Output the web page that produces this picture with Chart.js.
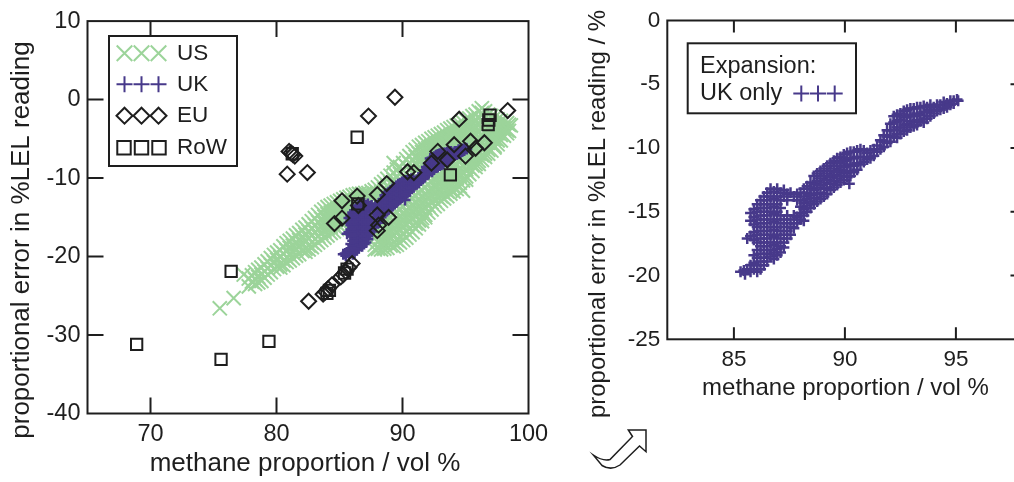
<!DOCTYPE html>
<html><head><meta charset="utf-8">
<script src="https://cdn.jsdelivr.net/npm/chart.js@4.4.1/dist/chart.umd.min.js"></script>
<style>
html,body{margin:0;padding:0;overflow:hidden;background:#fff;width:1014px;height:482px;}
#left{position:absolute;left:0;top:0;}
#right{position:absolute;left:560px;top:0;}
</style></head><body>
<canvas id="left" width="560" height="482"></canvas>
<canvas id="right" width="480" height="482"></canvas>
<script>
// ---------------- data ----------------
const xTicksLeft = [70, 80, 90, 100];
const yTicksLeft = [-40, -30, -20, -10, 0, 10];
const xTicksRight = [85, 90, 95];
const yTicksRight = [-25, -20, -15, -10, -5, 0];

const legendLabels = ['US', 'UK', 'EU', 'RoW'];
const insetLegend = ['Expansion:', 'UK only'];
const xTitle = 'methane proportion / vol %';
const yTitleLeft = 'proportional error in %LEL reading';
const yTitleRight = 'proportional error in %LEL reading / %';

const usData = [
[75.5,-26.6],[76.6,-25.3],[77.4,-22.3],
[77.8,-22.8],[77.8,-23.8],
[78.05,-22.4],[78.05,-23.2],
[78.3,-22.0],[78.3,-22.9],[78.3,-23.5],
[78.55,-21.7],[78.55,-22.6],[78.55,-23.3],
[78.8,-21.4],[78.8,-22.3],[78.8,-23.1],
[79.05,-21.0],[79.05,-21.9],[79.05,-22.7],
[79.3,-20.6],[79.3,-21.5],[79.3,-22.3],
[79.55,-20.2],[79.55,-21.1],[79.55,-22.0],
[79.8,-19.8],[79.8,-20.7],[79.8,-21.6],
[80.05,-19.5],[80.05,-20.4],[80.05,-21.3],
[80.3,-19.2],[80.3,-20.1],[80.3,-21.0],[80.3,-21.4],
[80.55,-18.7],[80.55,-19.6],[80.55,-20.5],[80.55,-21.1],
[80.8,-18.3],[80.8,-19.2],[80.8,-20.1],[80.8,-20.7],
[81.05,-18.0],[81.05,-18.9],[81.05,-19.8],[81.05,-20.5],
[81.3,-17.7],[81.3,-18.6],[81.3,-19.5],[81.3,-20.2],
[81.55,-17.3],[81.55,-18.2],[81.55,-19.1],[81.55,-19.9],
[81.8,-17.0],[81.8,-17.9],[81.8,-18.8],[81.8,-19.7],
[82.05,-16.6],[82.05,-17.5],[82.05,-18.4],[82.05,-19.3],
[82.3,-16.3],[82.3,-17.2],[82.3,-18.1],[82.3,-19.0],[82.3,-19.4],
[82.55,-15.9],[82.55,-16.8],[82.55,-17.7],[82.55,-18.6],[82.55,-19.1],
[82.8,-15.5],[82.8,-16.4],[82.8,-17.3],[82.8,-18.2],[82.8,-18.8],
[83.05,-15.1],[83.05,-16.0],[83.05,-16.9],[83.05,-17.8],[83.05,-18.5],
[83.3,-14.7],[83.3,-15.6],[83.3,-16.5],[83.3,-17.4],[83.3,-18.2],
[83.55,-14.3],[83.55,-15.2],[83.55,-16.1],[83.55,-17.0],[83.55,-17.9],
[83.8,-14.0],[83.8,-14.9],[83.8,-15.8],[83.8,-16.7],[83.8,-17.6],
[84.05,-13.7],[84.05,-14.6],[84.05,-15.5],[84.05,-16.4],[84.05,-17.3],
[84.3,-13.5],[84.3,-14.4],[84.3,-15.3],[84.3,-16.2],[84.3,-17.0],
[84.55,-13.3],[84.55,-14.2],[84.55,-15.1],[84.55,-16.0],[84.55,-16.8],
[84.8,-13.1],[84.8,-14.0],[84.8,-14.9],[84.8,-15.8],[84.8,-16.5],
[85.05,-12.9],[85.05,-13.8],[85.05,-14.7],[85.05,-15.6],[85.05,-16.2],
[85.3,-12.7],[85.3,-13.6],[85.3,-14.5],[85.3,-15.4],[85.3,-15.9],
[85.55,-12.5],[85.55,-13.4],[85.55,-14.3],[85.55,-15.2],[85.55,-15.6],
[85.8,-12.4],[85.8,-13.3],[85.8,-14.2],[85.8,-15.0],
[86.05,-12.2],[86.05,-13.1],[86.05,-14.0],[86.05,-14.4],
[86.3,-12.1],[86.3,-13.0],[86.3,-13.6],
[86.55,-12.0],[86.55,-12.9],
[86.8,-12.0],[86.8,-12.8],
[87.05,-11.9],[87.05,-12.7],
[87.3,-11.9],[87.3,-12.6],
[87.55,-11.7],[87.55,-12.5],
[87.8,-11.5],[87.8,-12.4],[87.8,-17.6],[87.8,-18.5],[87.8,-19.1],
[88.05,-11.2],[88.05,-12.1],[88.05,-17.2],[88.05,-18.1],[88.05,-19.0],
[88.3,-10.8],[88.3,-11.7],[88.3,-12.6],[88.3,-15.9],[88.3,-16.8],[88.3,-17.7],[88.3,-18.6],[88.3,-19.1],
[88.55,-10.5],[88.55,-11.4],[88.55,-12.3],[88.55,-15.6],[88.55,-16.5],[88.55,-17.4],[88.55,-18.3],[88.55,-19.0],
[88.8,-10.1],[88.8,-11.0],[88.8,-11.9],[88.8,-15.3],[88.8,-16.2],[88.8,-17.1],[88.8,-18.0],[88.8,-18.9],
[89.05,-9.7],[89.05,-10.6],[89.05,-11.5],[89.05,-15.0],[89.05,-15.9],[89.05,-16.8],[89.05,-17.7],[89.05,-18.6],
[89.3,-8.1],[89.3,-9.3],[89.3,-10.2],[89.3,-11.1],[89.3,-14.6],[89.3,-15.5],[89.3,-16.4],[89.3,-17.3],[89.3,-18.2],[89.3,-18.7],
[89.55,-8.9],[89.55,-9.8],[89.55,-10.7],[89.55,-14.3],[89.55,-15.2],[89.55,-16.1],[89.55,-17.0],[89.55,-17.9],[89.55,-18.5],
[89.8,-8.6],[89.8,-9.5],[89.8,-10.4],[89.8,-13.9],[89.8,-14.8],[89.8,-15.7],[89.8,-16.6],[89.8,-17.5],[89.8,-18.2],
[90.05,-8.1],[90.05,-9.0],[90.05,-9.9],[90.05,-13.6],[90.05,-14.5],[90.05,-15.4],[90.05,-16.3],[90.05,-17.2],[90.05,-17.9],
[90.3,-7.6],[90.3,-8.5],[90.3,-9.4],[90.3,-13.2],[90.3,-14.1],[90.3,-15.0],[90.3,-15.9],[90.3,-16.8],[90.3,-17.6],
[90.55,-7.2],[90.55,-8.1],[90.55,-9.0],[90.55,-12.9],[90.55,-13.8],[90.55,-14.7],[90.55,-15.6],[90.55,-16.5],[90.55,-17.2],
[90.8,-6.7],[90.8,-7.6],[90.8,-8.5],[90.8,-9.3],[90.8,-12.5],[90.8,-13.4],[90.8,-14.3],[90.8,-15.2],[90.8,-16.1],[90.8,-16.9],
[91.05,-6.4],[91.05,-7.3],[91.05,-8.2],[91.05,-9.0],[91.05,-12.2],[91.05,-13.1],[91.05,-14.0],[91.05,-14.9],[91.05,-15.8],[91.05,-16.4],
[91.3,-6.0],[91.3,-6.9],[91.3,-7.8],[91.3,-8.7],[91.3,-11.8],[91.3,-12.7],[91.3,-13.6],[91.3,-14.5],[91.3,-15.4],[91.3,-15.9],
[91.55,-5.8],[91.55,-6.7],[91.55,-7.6],[91.55,-8.4],[91.55,-11.5],[91.55,-12.4],[91.55,-13.3],[91.55,-14.2],[91.55,-15.1],[91.55,-15.5],
[91.8,-5.5],[91.8,-6.4],[91.8,-7.3],[91.8,-8.2],[91.8,-11.1],[91.8,-12.0],[91.8,-12.9],[91.8,-13.8],[91.8,-14.7],[91.8,-15.0],
[92.05,-5.3],[92.05,-6.2],[92.05,-7.1],[92.05,-7.7],[92.05,-10.8],[92.05,-11.7],[92.05,-12.6],[92.05,-13.5],[92.05,-14.4],
[92.3,-5.0],[92.3,-5.9],[92.3,-6.8],[92.3,-10.4],[92.3,-11.3],[92.3,-12.2],[92.3,-13.1],[92.3,-14.0],
[92.55,-4.8],[92.55,-5.7],[92.55,-6.6],[92.55,-10.1],[92.55,-11.0],[92.55,-11.9],[92.55,-12.8],[92.55,-13.6],
[92.8,-4.6],[92.8,-5.5],[92.8,-6.4],[92.8,-9.8],[92.8,-10.7],[92.8,-11.6],[92.8,-12.5],[92.8,-13.3],
[93.05,-4.4],[93.05,-5.3],[93.05,-6.2],[93.05,-9.6],[93.05,-10.5],[93.05,-11.4],[93.05,-12.3],[93.05,-12.9],
[93.3,-4.2],[93.3,-5.1],[93.3,-6.0],[93.3,-9.3],[93.3,-10.2],[93.3,-11.1],[93.3,-12.0],[93.3,-12.6],
[93.55,-3.9],[93.55,-4.8],[93.55,-5.7],[93.55,-9.0],[93.55,-9.9],[93.55,-10.8],[93.55,-11.7],[93.55,-12.3],
[93.8,-3.7],[93.8,-4.6],[93.8,-5.5],[93.8,-6.2],[93.8,-8.8],[93.8,-9.7],[93.8,-10.6],[93.8,-11.5],[93.8,-12.0],
[94.05,-3.5],[94.05,-4.4],[94.05,-5.3],[94.05,-6.0],[94.05,-8.5],[94.05,-9.4],[94.05,-10.3],[94.05,-11.2],[94.05,-11.7],
[94.3,-3.3],[94.3,-4.2],[94.3,-5.1],[94.3,-5.8],[94.3,-8.2],[94.3,-9.1],[94.3,-10.0],[94.3,-10.9],[94.3,-11.4],
[94.55,-3.1],[94.55,-4.0],[94.55,-4.9],[94.55,-5.7],[94.55,-7.9],[94.55,-8.8],[94.55,-9.7],[94.55,-10.6],[94.55,-11.1],
[94.8,-2.9],[94.8,-3.8],[94.8,-4.7],[94.8,-5.6],[94.8,-7.6],[94.8,-8.5],[94.8,-9.4],[94.8,-10.3],[94.8,-11.6],
[95.05,-2.6],[95.05,-3.5],[95.05,-4.4],[95.05,-5.3],[95.05,-6.2],[95.05,-7.1],[95.05,-8.0],[95.05,-8.9],[95.05,-9.8],[95.05,-10.2],
[95.3,-2.4],[95.3,-3.3],[95.3,-4.2],[95.3,-5.1],[95.3,-6.0],[95.3,-6.9],[95.3,-7.8],[95.3,-8.7],[95.3,-9.5],
[95.55,-2.1],[95.55,-3.0],[95.55,-3.9],[95.55,-4.8],[95.55,-5.7],[95.55,-6.6],[95.55,-7.5],[95.55,-8.4],[95.55,-9.1],
[95.8,-1.9],[95.8,-2.8],[95.8,-3.7],[95.8,-4.6],[95.8,-5.5],[95.8,-6.4],[95.8,-7.3],[95.8,-8.2],[95.8,-8.6],
[96.05,-1.5],[96.05,-2.4],[96.05,-3.3],[96.05,-4.2],[96.05,-5.1],[96.05,-6.0],[96.05,-6.9],[96.05,-7.8],[96.05,-8.2],
[96.3,-1.1],[96.3,-1.7],[96.3,-2.6],[96.3,-3.5],[96.3,-4.4],[96.3,-5.3],[96.3,-6.2],[96.3,-7.1],[96.3,-7.7],
[96.55,-1.5],[96.55,-2.4],[96.55,-3.3],[96.55,-4.2],[96.55,-5.1],[96.55,-6.0],[96.55,-6.9],[96.55,-7.3],
[96.8,-1.9],[96.8,-2.8],[96.8,-3.7],[96.8,-4.6],[96.8,-5.5],[96.8,-6.4],[96.8,-6.9],
[97.05,-2.1],[97.05,-3.0],[97.05,-3.9],[97.05,-4.8],[97.05,-5.7],[97.05,-6.5],
[97.3,-2.3],[97.3,-3.2],[97.3,-4.1],[97.3,-5.0],[97.3,-5.9],[97.3,-6.1],
[97.55,-2.5],[97.55,-3.4],[97.55,-4.3],[97.55,-5.2],[97.55,-5.7],
[97.8,-2.7],[97.8,-3.6],[97.8,-4.5],[97.8,-5.2],
[98.05,-2.8],[98.05,-3.7],[98.05,-4.6],
[98.3,-3.0],[98.3,-3.9],[98.3,-4.3],
[98.45,-3.2],[98.45,-4.0],
[98.6,-3.3]
];

const ukData = [
[85.3,-19.7],[85.45,-19.6],[85.5,-19.9],
[85.6,-19.5],[85.6,-17.1],
[85.75,-15.1],[85.75,-15.7],[85.75,-16.9],[85.75,-19.2],[85.75,-19.7],
[85.9,-14.8],[85.9,-15.4],[85.9,-16.0],[85.9,-16.6],[85.9,-17.2],[85.9,-18.4],[85.9,-19.0],[85.9,-19.5],
[86.05,-14.4],[86.05,-15.0],[86.05,-15.6],[86.05,-16.2],[86.05,-16.8],[86.05,-17.4],[86.05,-18.0],[86.05,-18.6],[86.05,-19.2],[86.05,-19.7],
[86.2,-14.1],[86.2,-14.7],[86.2,-15.3],[86.2,-15.9],[86.2,-16.5],[86.2,-17.1],[86.2,-17.7],[86.2,-18.3],[86.2,-18.9],[86.2,-19.5],
[86.35,-13.8],[86.35,-14.4],[86.35,-15.0],[86.35,-15.6],[86.35,-16.2],[86.35,-16.8],[86.35,-17.4],[86.35,-18.0],[86.35,-18.6],[86.35,-19.2],
[86.5,-13.5],[86.5,-14.1],[86.5,-14.7],[86.5,-15.3],[86.5,-15.9],[86.5,-16.5],[86.5,-17.1],[86.5,-17.7],[86.5,-18.3],[86.5,-18.9],
[86.65,-13.2],[86.65,-13.8],[86.65,-14.4],[86.65,-15.0],[86.65,-15.6],[86.65,-16.2],[86.65,-16.8],[86.65,-17.4],[86.65,-18.0],[86.65,-18.5],
[86.8,-13.4],[86.8,-14.0],[86.8,-14.6],[86.8,-15.2],[86.8,-15.8],[86.8,-16.4],[86.8,-17.0],[86.8,-17.6],[86.8,-18.2],[86.8,-18.7],
[86.95,-13.2],[86.95,-13.8],[86.95,-14.4],[86.95,-15.0],[86.95,-15.6],[86.95,-16.2],[86.95,-16.8],[86.95,-17.4],[86.95,-17.9],[86.95,-18.4],
[87.1,-13.5],[87.1,-14.1],[87.1,-14.7],[87.1,-15.3],[87.1,-15.9],[87.1,-16.5],[87.1,-17.1],[87.1,-17.7],[87.1,-18.2],
[87.25,-13.3],[87.25,-13.8],[87.25,-15.6],[87.25,-16.2],[87.25,-16.8],[87.25,-17.4],[87.25,-17.8],
[87.4,-13.6],[87.4,-14.1],[87.4,-15.3],[87.4,-15.9],[87.4,-16.5],[87.4,-17.1],
[87.55,-13.5],[87.55,-15.6],[87.55,-16.2],[87.55,-16.8],
[87.7,-13.8],[87.7,-15.3],[87.7,-15.9],[87.7,-16.3],
[87.85,-13.6],[87.85,-14.1],[87.85,-15.4],[87.85,-15.9],
[88.0,-13.5],[88.0,-14.1],[88.0,-14.6],[88.0,-15.1],[88.0,-15.6],
[88.15,-13.2],[88.15,-13.8],[88.15,-14.3],[88.15,-14.8],[88.15,-15.3],[88.15,-15.7],
[88.3,-13.0],[88.3,-13.5],[88.3,-14.0],[88.3,-14.5],[88.3,-15.0],
[88.45,-12.7],[88.45,-13.2],[88.45,-13.7],[88.45,-14.2],[88.45,-14.7],
[88.6,-12.2],[88.6,-12.8],[88.6,-13.3],[88.6,-13.9],[88.6,-14.4],
[88.75,-12.0],[88.75,-12.6],[88.75,-13.1],[88.75,-13.6],[88.75,-14.2],
[88.9,-11.8],[88.9,-12.4],[88.9,-12.9],[88.9,-13.5],[88.9,-14.0],
[89.05,-11.6],[89.05,-12.2],[89.05,-12.7],[89.05,-13.2],[89.05,-13.8],
[89.2,-11.4],[89.2,-12.0],[89.2,-12.5],[89.2,-13.1],[89.2,-13.6],
[89.35,-11.2],[89.35,-11.8],[89.35,-12.3],[89.35,-12.8],[89.35,-13.3],
[89.5,-11.0],[89.5,-11.6],[89.5,-12.1],[89.5,-12.6],[89.5,-13.1],
[89.65,-10.8],[89.65,-11.4],[89.65,-11.9],[89.65,-12.4],[89.65,-12.9],
[89.8,-10.7],[89.8,-11.2],[89.8,-11.7],[89.8,-12.2],[89.8,-12.7],
[89.95,-10.5],[89.95,-11.0],[89.95,-11.5],[89.95,-12.0],[89.95,-12.5],
[90.1,-10.4],[90.1,-10.9],[90.1,-11.4],[90.1,-11.9],[90.1,-12.3],[90.2,-12.8],
[90.25,-10.3],[90.25,-10.8],[90.25,-11.3],[90.25,-11.8],[90.25,-12.2],
[90.4,-10.3],[90.4,-10.8],[90.4,-11.4],[90.4,-11.9],
[90.55,-10.2],[90.55,-10.7],[90.55,-11.2],[90.55,-11.7],
[90.7,-10.1],[90.7,-10.7],[90.7,-11.3],
[90.85,-10.2],[90.85,-10.7],[90.85,-11.1],
[91.0,-10.4],[91.0,-10.9],
[91.15,-10.2],[91.15,-10.8],
[91.3,-10.1],[91.3,-10.6],
[91.45,-9.8],[91.45,-10.3],
[91.6,-9.4],[91.6,-10.1],
[91.75,-9.0],[91.75,-9.5],[91.75,-9.9],
[91.9,-8.6],[91.9,-9.1],[91.9,-9.6],
[92.05,-8.1],[92.05,-8.6],[92.05,-9.1],[92.05,-9.5],
[92.2,-7.5],[92.2,-8.0],[92.2,-8.6],[92.2,-9.1],
[92.35,-7.4],[92.35,-7.9],[92.35,-8.4],[92.35,-8.9],[92.35,-9.2],
[92.5,-7.3],[92.5,-7.8],[92.5,-8.4],[92.5,-8.9],
[92.65,-7.1],[92.65,-7.6],[92.65,-8.2],[92.65,-8.7],
[92.8,-7.0],[92.8,-7.5],[92.8,-8.1],[92.8,-8.6],
[92.95,-6.9],[92.95,-7.4],[92.95,-7.9],[92.95,-8.4],
[93.1,-6.9],[93.1,-7.5],[93.1,-8.0],[93.1,-8.3],
[93.25,-6.8],[93.25,-7.3],[93.25,-7.8],[93.25,-8.2],
[93.4,-6.8],[93.4,-7.4],[93.4,-7.9],
[93.55,-6.7],[93.55,-7.2],[93.55,-7.7],[93.55,-8.0],
[93.7,-6.8],[93.7,-7.2],[93.7,-7.7],
[93.85,-6.6],[93.85,-7.0],[93.85,-7.5],
[94.0,-6.8],[94.0,-7.3],
[94.15,-6.6],[94.15,-7.1],
[94.3,-6.6],[94.3,-7.0],
[94.45,-6.4],[94.45,-6.9],
[94.6,-6.5],[94.6,-6.8],
[94.75,-6.3],[94.75,-6.6],
[94.9,-6.3],[94.9,-6.5],
[95.05,-6.2],[95.1,-6.3]
];

const euData = [
[89.4,0.3],[87.3,-2.1],[98.35,-1.4],[94.5,-2.5],
[81.0,-6.6],[81.15,-6.8],[81.3,-7.0],[81.45,-7.2],
[80.85,-9.5],[82.45,-9.3],
[85.2,-12.9],[86.4,-12.3],[86.5,-13.5],[85.2,-15.1],[84.6,-15.8],
[88.0,-12.1],[88.75,-10.7],[90.4,-9.2],[90.9,-9.3],
[88.0,-14.7],[88.9,-15.0],[88.1,-16.0],[88.0,-16.7],
[86.0,-20.9],[85.75,-21.4],[85.5,-21.9],[85.3,-22.3],[85.1,-22.6],
[84.4,-23.6],[84.1,-24.1],[83.9,-24.5],[83.7,-24.8],
[82.55,-25.7],
[92.3,-8.1],[92.8,-6.6],[93.55,-7.7],[94.1,-5.75],[95.4,-5.3],[96.5,-5.5],[95.0,-7.2],[95.8,-6.2]
];

const rowData = [
[68.9,-31.2],[75.6,-33.1],[79.4,-30.8],[76.4,-21.9],[86.4,-4.8],[93.8,-9.6],
[96.95,-2.0],[96.85,-2.6],[96.8,-3.2],[86.45,-13.3],
[85.6,-21.6],[85.4,-22.1],[84.2,-24.3],[84.0,-24.7],[81.25,-6.9]
];

// ---------------- styling ----------------
const FONT = '"Liberation Sans", Arial, Helvetica, sans-serif';
const INK = '#1e1e1e';
const US_COLOR = '#9cd49a';
const UK_COLOR = '#47398a';

const toXY = a => a.map(p => ({x: p[0], y: p[1]}));

function drawMarker(ctx, style, x, y, r, color, lw) {
  ctx.save();
  ctx.strokeStyle = color; ctx.lineWidth = lw;
  ctx.beginPath();
  if (style === 'crossRot') {
    const o = r * Math.SQRT1_2;
    ctx.moveTo(x - o, y - o); ctx.lineTo(x + o, y + o);
    ctx.moveTo(x + o, y - o); ctx.lineTo(x - o, y + o);
  } else if (style === 'cross') {
    ctx.moveTo(x - r, y); ctx.lineTo(x + r, y);
    ctx.moveTo(x, y - r); ctx.lineTo(x, y + r);
  } else if (style === 'rectRot') {
    ctx.moveTo(x - r, y); ctx.lineTo(x, y - r); ctx.lineTo(x + r, y); ctx.lineTo(x, y + r); ctx.closePath();
  } else {
    const s = r * Math.SQRT1_2;
    ctx.rect(x - s, y - s, 2 * s, 2 * s);
  }
  ctx.stroke();
  ctx.restore();
}

const framePlugin = {
  id: 'frame',
  afterDatasetsDraw(chart, args, o) {
    const {ctx, chartArea: a, scales} = chart;
    ctx.save();
    ctx.strokeStyle = INK; ctx.lineWidth = o.lineWidth;
    ctx.strokeRect(a.left, a.top, a.right - a.left, a.bottom - a.top);
    const L = o.tickLength;
    ctx.beginPath();
    scales.x.ticks.forEach(t => {
      if (t.value <= scales.x.min || t.value >= scales.x.max) return;
      const p = scales.x.getPixelForValue(t.value);
      if (o.bottom) { ctx.moveTo(p, a.bottom); ctx.lineTo(p, a.bottom - L); }
      if (o.top) { ctx.moveTo(p, a.top); ctx.lineTo(p, a.top + L); }
    });
    scales.y.ticks.forEach(t => {
      if (t.value <= scales.y.min || t.value >= scales.y.max) return;
      const p = scales.y.getPixelForValue(t.value);
      if (o.left) { ctx.moveTo(a.left, p); ctx.lineTo(a.left + L, p); }
      if (o.right) { ctx.moveTo(a.right, p); ctx.lineTo(a.right - L, p); }
    });
    ctx.stroke();
    ctx.restore();
  }
};

const textPlugin = {
  id: 'texts',
  afterDraw(chart, args, o) {
    const ctx = chart.ctx;
    ctx.save();
    ctx.fillStyle = INK;
    (o.items || []).forEach(it => {
      ctx.save();
      ctx.font = it.size + 'px ' + FONT;
      ctx.textAlign = it.align || 'center';
      ctx.textBaseline = it.baseline || 'alphabetic';
      ctx.translate(it.x, it.y);
      if (it.rotate) ctx.rotate(it.rotate);
      ctx.fillText(it.text, 0, 0);
      ctx.restore();
    });
    ctx.restore();
  }
};

const legendPlugin = {
  id: 'boxLegend',
  afterDraw(chart, args, o) {
    const ctx = chart.ctx;
    ctx.save();
    ctx.fillStyle = '#fff';
    ctx.fillRect(o.box[0], o.box[1], o.box[2], o.box[3]);
    ctx.strokeStyle = INK; ctx.lineWidth = 2;
    ctx.strokeRect(o.box[0], o.box[1], o.box[2], o.box[3]);
    ctx.fillStyle = INK;
    (o.rows || []).forEach(r => {
      if (r.marker) r.mx.forEach(mx => drawMarker(ctx, r.marker, mx, r.my, r.r, r.color, r.lw));
      if (r.text) {
        ctx.font = o.fontSize + 'px ' + FONT;
        ctx.textAlign = 'left';
        ctx.textBaseline = r.baseline || 'middle';
        ctx.fillText(r.text, r.tx, r.ty);
      }
    });
    ctx.restore();
  }
};

const arrowPlugin = {
  id: 'arrow',
  afterDraw(chart, args, o) {
    if (!o.show) return;
    const ctx = chart.ctx;
    ctx.save();
    ctx.beginPath();
    ctx.moveTo(33.3, 455);
    ctx.quadraticCurveTo(43, 461.5, 50, 459.5);
    ctx.lineTo(72.5, 436.5);
    ctx.lineTo(68.3, 430);
    ctx.lineTo(86, 430);
    ctx.lineTo(86, 451.7);
    ctx.lineTo(79.5, 446);
    ctx.lineTo(60, 465);
    ctx.quadraticCurveTo(51, 471, 42, 465.5);
    ctx.closePath();
    ctx.fillStyle = '#fff'; ctx.fill();
    ctx.strokeStyle = INK; ctx.lineWidth = 1.5; ctx.stroke();
    ctx.restore();
  }
};

function ds(label, data, style, r, color, lw, order) {
  return {
    label, data: toXY(data), order,
    pointStyle: style, pointRadius: r, pointHoverRadius: r,
    pointBorderColor: color, pointBackgroundColor: 'rgba(0,0,0,0)',
    pointBorderWidth: lw, pointHoverBorderWidth: lw, showLine: false
  };
}

function axes(xMin, xMax, yMin, yMax, xt, yt, yWidth, xHeight, fs) {
  return {
    x: {
      type: 'linear', min: xMin, max: xMax,
      afterBuildTicks: s => { s.ticks = xt.map(v => ({value: v})); },
      afterFit: s => { s.height = xHeight; },
      grid: {display: false, drawTicks: false}, border: {display: false},
      ticks: {font: {family: FONT, size: fs}, color: INK, padding: 7, maxRotation: 0, autoSkip: false}
    },
    y: {
      type: 'linear', min: yMin, max: yMax,
      afterBuildTicks: s => { s.ticks = yt.map(v => ({value: v})); },
      afterFit: s => { s.width = yWidth; },
      grid: {display: false, drawTicks: false}, border: {display: false},
      ticks: {font: {family: FONT, size: fs}, color: INK, padding: 7, autoSkip: false}
    }
  };
}

// ---------------- left chart ----------------
new Chart(document.getElementById('left'), {
  type: 'scatter',
  data: {datasets: [
    ds(legendLabels[0], usData, 'crossRot', 10, US_COLOR, 2, 4),
    ds(legendLabels[1], ukData, 'cross', 5.5, UK_COLOR, 2.5, 3),
    ds(legendLabels[2], euData, 'rectRot', 7.5, INK, 2, 2),
    ds(legendLabels[3], rowData, 'rect', 8, INK, 2, 1)
  ]},
  options: {
    responsive: false, animation: false, events: [],
    layout: {padding: {top: 16.7, right: 31.5, bottom: 0, left: 0}},
    scales: axes(65, 100, -40, 10, xTicksLeft, yTicksLeft, 87.5, 68.5, 23.5),
    plugins: {
      legend: {display: false}, tooltip: {enabled: false},
      frame: {lineWidth: 2, tickLength: 16, top: true, bottom: true, left: true, right: true},
      texts: {items: [
        {text: xTitle, x: 305, y: 471, size: 26},
        {text: yTitleLeft, x: 29, y: 240, size: 26, rotate: -Math.PI / 2}
      ]},
      boxLegend: {
        box: [109, 36, 128, 130], fontSize: 22.5,
        rows: [
          {marker: 'crossRot', color: US_COLOR, r: 11, lw: 2, mx: [124.5, 141.5, 158.5], my: 53.3, text: legendLabels[0], tx: 177, ty: 53.3},
          {marker: 'cross', color: UK_COLOR, r: 8, lw: 2, mx: [124.5, 141.5, 158.5], my: 84.3, text: legendLabels[1], tx: 177, ty: 84.3},
          {marker: 'rectRot', color: INK, r: 8, lw: 2, mx: [124.5, 141.5, 158.5], my: 115.7, text: legendLabels[2], tx: 177, ty: 115.7},
          {marker: 'rect', color: INK, r: 9.5, lw: 2, mx: [124, 141.5, 159], my: 147.7, text: legendLabels[3], tx: 177, ty: 147.7}
        ]
      },
      arrow: {show: false}
    }
  },
  plugins: [framePlugin, textPlugin, legendPlugin, arrowPlugin]
});

// ---------------- right chart ----------------
new Chart(document.getElementById('right'), {
  type: 'scatter',
  data: {datasets: [
    ds(legendLabels[1], ukData, 'cross', 5.5, UK_COLOR, 2.5, 1)
  ]},
  options: {
    responsive: false, animation: false, events: [],
    layout: {padding: {top: 18.3, right: 17.5, bottom: 0, left: 0}},
    scales: axes(82, 98, -25, 0, xTicksRight, yTicksRight, 107.3, 142.7, 22.5),
    plugins: {
      legend: {display: false}, tooltip: {enabled: false},
      frame: {lineWidth: 2, tickLength: 12, top: true, bottom: true, left: false, right: true},
      texts: {items: [
        {text: xTitle, x: 285.5, y: 395, size: 24},
        {text: yTitleRight, x: 45, y: 214, size: 24, rotate: -Math.PI / 2}
      ]},
      boxLegend: {
        box: [127.7, 43.3, 168.3, 70], fontSize: 23.5,
        rows: [
          {text: insetLegend[0], tx: 140, ty: 72.7, baseline: 'alphabetic'},
          {marker: 'cross', color: UK_COLOR, r: 8, lw: 2, mx: [241.3, 258, 274.7], my: 93.5, text: insetLegend[1], tx: 140, ty: 100, baseline: 'alphabetic'}
        ]
      },
      arrow: {show: true}
    }
  },
  plugins: [framePlugin, textPlugin, legendPlugin, arrowPlugin]
});
</script></body></html>
